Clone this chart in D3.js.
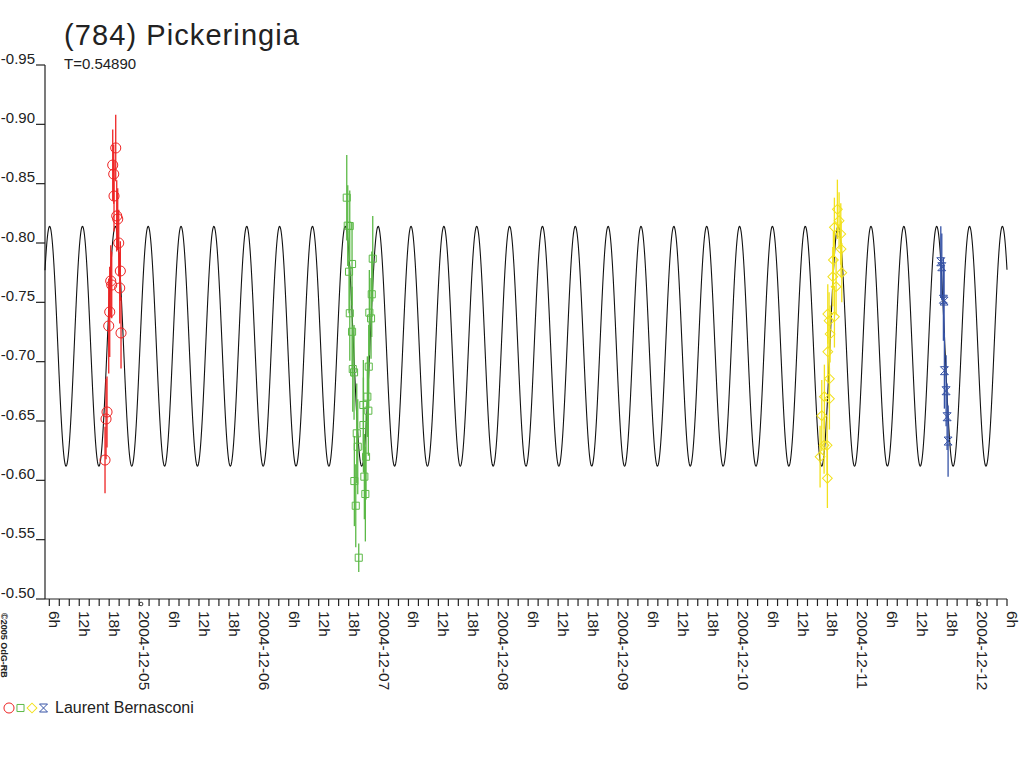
<!DOCTYPE html>
<html>
<head>
<meta charset="utf-8">
<script src="https://cdn.jsdelivr.net/npm/d3@7"></script>
<style>
body { margin: 0; background: #fff; }
text { font-family: "Liberation Sans", Arial, sans-serif; fill: #222; }
</style>
</head>
<body>
<svg id="chart" width="1024" height="768"></svg>
<script>
// times are days after 2004-12-04 00:00 UT, values are relative magnitudes
var redDays = [0.7153, 0.7237, 0.7320, 0.7462, 0.7546, 0.7630, 0.7713, 0.7797, 0.7880, 0.7905, 0.8047, 0.8131, 0.8214, 0.8298, 0.8381, 0.8432, 0.8490];
var redMag = [-0.6171, -0.6517, -0.6576, -0.7301, -0.7419, -0.7680, -0.7646, -0.8657, -0.8581, -0.8396, -0.8801, -0.8228, -0.8202, -0.8000, -0.7621, -0.7764, -0.7242];
var redErr = [0.028, 0.034, 0.030, 0.040, 0.038, 0.030, 0.028, 0.030, 0.025, 0.030, 0.028, 0.030, 0.026, 0.028, 0.030, 0.025, 0.030];

var greenDays = [2.7346, 2.7429, 2.7538, 2.7596, 2.7600, 2.7788, 2.7790, 2.7847, 2.7956, 2.7981, 2.8098, 2.8181, 2.8264, 2.8348, 2.8732, 2.8740, 2.8816, 2.8900, 2.8958, 2.9067, 2.9150, 2.9184, 2.9233, 2.9375, 2.9434, 2.9517];
var greenMag = [-0.8382, -0.8146, -0.7758, -0.8143, -0.7408, -0.7823, -0.7252, -0.6938, -0.6910, -0.5994, -0.5786, -0.6396, -0.6283, -0.5348, -0.6635, -0.6466, -0.6031, -0.5885, -0.6199, -0.6705, -0.6587, -0.6958, -0.7413, -0.7365, -0.7568, -0.7868];
var greenErr = [0.036, 0.034, 0.035, 0.030, 0.040, 0.035, 0.038, 0.036, 0.040, 0.038, 0.035, 0.042, 0.040, 0.012, 0.038, 0.040, 0.036, 0.040, 0.036, 0.034, 0.038, 0.035, 0.036, 0.034, 0.036, 0.036];

var yellowDays = [6.6886, 6.7028, 6.7220, 6.7245, 6.7471, 6.7496, 6.7529, 6.7532, 6.7638, 6.7663, 6.7666, 6.7721, 6.7947, 6.7997, 6.8081, 6.8084, 6.8223, 6.8331, 6.8473, 6.8615, 6.8640, 6.8699];
var yellowMag = [-0.6199, -0.6545, -0.6295, -0.6705, -0.6295, -0.6017, -0.7402, -0.7084, -0.7345, -0.6856, -0.6688, -0.7233, -0.7716, -0.7857, -0.8132, -0.7379, -0.7632, -0.8284, -0.8188, -0.8076, -0.7949, -0.7750];
var yellowErr = [0.026, 0.030, 0.024, 0.027, 0.024, 0.025, 0.025, 0.026, 0.024, 0.025, 0.026, 0.024, 0.025, 0.024, 0.025, 0.026, 0.024, 0.025, 0.024, 0.026, 0.024, 0.025];

var blueDays = [7.6970, 7.7053, 7.7187, 7.7245, 7.7270, 7.7412, 7.7496, 7.7579];
var blueMag = [-0.7842, -0.7800, -0.7526, -0.7511, -0.6924, -0.6755, -0.6536, -0.6331];
var blueErr = [0.030, 0.028, 0.035, 0.030, 0.032, 0.030, 0.028, 0.030];

// fitted curve: period in days, mean, half-range, time of a maximum
var period = 0.54890;
var fitMean = -0.713;
var fitAmp = 0.101;
var fitPeak = 0.8014;

var yTicks = [-0.95, -0.90, -0.85, -0.80, -0.75, -0.70, -0.65, -0.60, -0.55, -0.50];
var yTickLabels = ["-0.95", "-0.90", "-0.85", "-0.80", "-0.75", "-0.70", "-0.65", "-0.60", "-0.55", "-0.50"];

var title = "(784) Pickeringia";
var subtitle = "T=0.54890";
var observer = "Laurent Bernasconi";
var credit = "\u00a92005 OdG-RB";

var dayZero = Date.UTC(2004, 11, 4);
function toDate(d){ return new Date(dayZero + d * 86400000); }

var svg = d3.select("#chart");

var x = d3.scaleUtc().domain([toDate(0.2139), toDate(8.25)]).range([45, 1007]);
var y = d3.scaleLinear().domain([-0.95, -0.50]).range([65, 599]);

// axes
svg.append("line").attr("x1", 45).attr("x2", 45).attr("y1", y(-0.95)).attr("y2", y(-0.50))
    .attr("stroke", "#222").attr("stroke-width", 1.2);
svg.append("line").attr("x1", 45).attr("x2", 1007).attr("y1", y(-0.50)).attr("y2", y(-0.50))
    .attr("stroke", "#222").attr("stroke-width", 1.2);

yTicks.forEach(function(v, i){
    svg.append("line").attr("x1", 36).attr("x2", 45).attr("y1", y(v)).attr("y2", y(v))
        .attr("stroke", "#222").attr("stroke-width", 1.2);
    svg.append("text").attr("x", 35).attr("y", y(v) - 1.5)
        .attr("text-anchor", "end").attr("font-size", 15)
        .text(yTickLabels[i]);
});

var hourTicks = d3.utcHour.every(2).range(toDate(0.25), toDate(8.26));
var dateFmt = d3.utcFormat("%Y-%m-%d");
hourTicks.forEach(function(t){
    var tx = x(t);
    svg.append("line").attr("x1", tx).attr("x2", tx).attr("y1", y(-0.50)).attr("y2", y(-0.50) + 7)
        .attr("stroke", "#222").attr("stroke-width", 1.2);
    var h = t.getUTCHours();
    if (h % 6 == 0) {
        svg.append("text")
            .attr("transform", "translate(" + tx + ",611) rotate(90)")
            .attr("font-size", 15.5)
            .text(h == 0 ? dateFmt(t) : h + "h");
    }
});

// little marks on the first and last date ticks
[toDate(1), toDate(8)].forEach(function(t){
    svg.append("circle").attr("cx", x(t) + 2).attr("cy", y(-0.50) + 5).attr("r", 1.8)
        .attr("fill", "none").attr("stroke", "#222").attr("stroke-width", 0.9);
});

// fitted lightcurve
var curvePts = d3.range(0.2139, 8.25, 0.002).map(function(d){
    return [d, fitMean - fitAmp * Math.cos(4 * Math.PI * (d - fitPeak) / period)];
});
var line = d3.line().x(function(p){ return x(toDate(p[0])); }).y(function(p){ return y(p[1]); });
svg.append("path").attr("d", line(curvePts))
    .attr("fill", "none").attr("stroke", "#111").attr("stroke-width", 1.1);

// observation sessions
var hourglass = "M-4,-4H4L-4,4H4Z";
var sessions = [
    {days: redDays, mag: redMag, err: redErr, color: "#ee2424", symbol: d3.symbol().type(d3.symbolCircle).size(80)()},
    {days: greenDays, mag: greenMag, err: greenErr, color: "#5cb947", symbol: d3.symbol().type(d3.symbolSquare).size(50)()},
    {days: yellowDays, mag: yellowMag, err: yellowErr, color: "#f2e11c", symbol: d3.symbol().type(d3.symbolSquare).size(48)(), rot: 45},
    {days: blueDays, mag: blueMag, err: blueErr, color: "#3653a6", symbol: hourglass}
];

sessions.forEach(function(s){
    var g = svg.append("g");
    s.days.forEach(function(d, i){
        var px = x(toDate(d));
        g.append("line").attr("x1", px).attr("x2", px)
            .attr("y1", y(s.mag[i] - s.err[i])).attr("y2", y(s.mag[i] + s.err[i]))
            .attr("stroke", s.color).attr("stroke-width", 1.3);
    });
    s.days.forEach(function(d, i){
        g.append("path").attr("d", s.symbol)
            .attr("transform", "translate(" + x(toDate(d)) + "," + y(s.mag[i]) + ")" + (s.rot ? " rotate(" + s.rot + ")" : ""))
            .attr("fill", "none").attr("stroke", s.color).attr("stroke-width", 1);
    });
});

// titles
svg.append("text").attr("x", 64).attr("y", 45).attr("font-size", 29)
    .attr("textLength", 235).attr("lengthAdjust", "spacing").text(title);
svg.append("text").attr("x", 64).attr("y", 68.5).attr("font-size", 15).text(subtitle);

// credit
svg.append("text").attr("transform", "translate(1,613) rotate(90)")
    .attr("font-size", 9).attr("font-weight", "bold").text(credit);

// legend
sessions.forEach(function(s, i){
    svg.append("path").attr("d", s.symbol)
        .attr("transform", "translate(" + (9 + i * 11.5) + ",708)" + (s.rot ? " rotate(" + s.rot + ")" : ""))
        .attr("fill", "none").attr("stroke", s.color).attr("stroke-width", 1);
});
svg.append("text").attr("x", 55).attr("y", 713).attr("font-size", 16).text(observer);
</script>
</body>
</html>
